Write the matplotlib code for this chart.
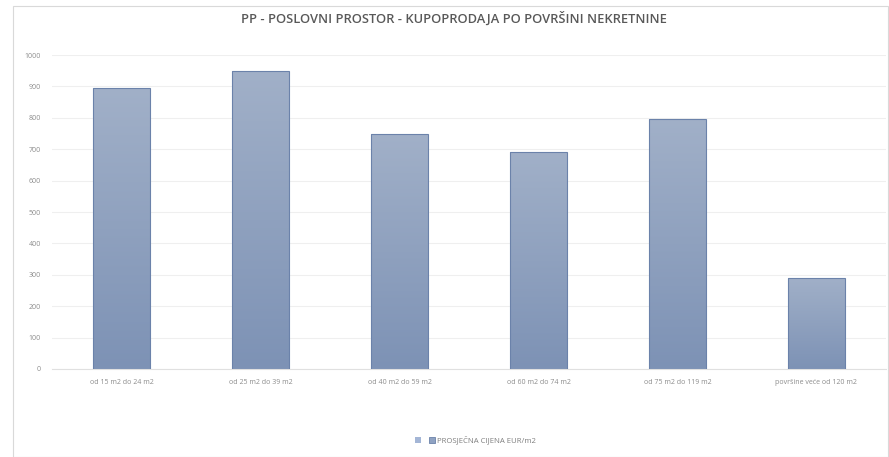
import numpy as np
import matplotlib
matplotlib.use('Agg')
import matplotlib.pyplot as plt
from matplotlib.patches import Rectangle, Patch

# Data
categories = ['od 15 m2 do 24 m2', 'od 25 m2 do 39 m2', 'od 40 m2 do 59 m2',
              'od 60 m2 do 74 m2', 'od 75 m2 do 119 m2', 'površine veće od 120 m2']
prices = [895, 949, 748, 691, 796, 290]
series_label = 'PROSJEČNA CIJENA EUR/m2'
title = 'PP - POSLOVNI PROSTOR - KUPOPRODAJA PO POVRŠINI NEKRETNINE'

plt.rcParams['font.family'] = ['Open Sans', 'DejaVu Sans']

fig = plt.figure(figsize=(8.89, 4.57), dpi=100)
ax = fig.add_axes([0.0585, 0.1926, 0.938, 0.687])

# outer chart border
fig.patches.append(Rectangle((13 / 889, 0), 875 / 889, 1 - 6 / 457, transform=fig.transFigure,
                             fill=False, edgecolor='#d9d9d9', linewidth=0.8))

x = np.arange(len(categories))
bars = ax.bar(x, prices, width=0.41, facecolor='none', edgecolor='#6b82aa', linewidth=0.8, zorder=3)

# vertical gradient fill inside each bar
grad = np.linspace(0, 1, 256).reshape(-1, 1)
cmap = matplotlib.colors.LinearSegmentedColormap.from_list('g', ['#7d92b5', '#a1b0c8'])
for b in bars:
    im = ax.imshow(grad, cmap=cmap, aspect='auto', origin='lower',
                   extent=[b.get_x(), b.get_x() + b.get_width(), 0, b.get_height()], zorder=2)
    im.set_clip_path(b)

ax.set_xlim(-0.5, len(categories) - 0.5)
ax.set_ylim(0, 1000)
ax.set_yticks(range(0, 1001, 100))
ax.set_xticks(x)
ax.set_xticklabels(categories)
ax.tick_params(axis='both', length=0, labelsize=5, labelcolor='#8c8c8c')
ax.tick_params(axis='x', pad=7)
ax.tick_params(axis='y', pad=8)
ax.grid(axis='y', color='#efefef', linewidth=0.8, zorder=0)
for s in ['top', 'right', 'left']:
    ax.spines[s].set_visible(False)
ax.spines['bottom'].set_color('#e0e0e0')
ax.spines['bottom'].set_linewidth(0.8)

fig.text(0.511, 1 - 19 / 457, title, ha='center', va='center', fontsize=9.3,
         fontweight='semibold', color='#595959')

handles = [Patch(facecolor='#a4b6d6', edgecolor='none'),
           Patch(facecolor='#8fa2c2', edgecolor='#6b82aa', linewidth=0.6)]
fig.legend(handles, ['', series_label], loc='center', bbox_to_anchor=(0.535, 1 - 440 / 457),
           ncol=2, frameon=False, fontsize=5.6, labelcolor='#7f7f7f',
           handlelength=0.8, handleheight=0.8, handletextpad=0.3, columnspacing=0.7)

fig.savefig('out.png', dpi=100)
